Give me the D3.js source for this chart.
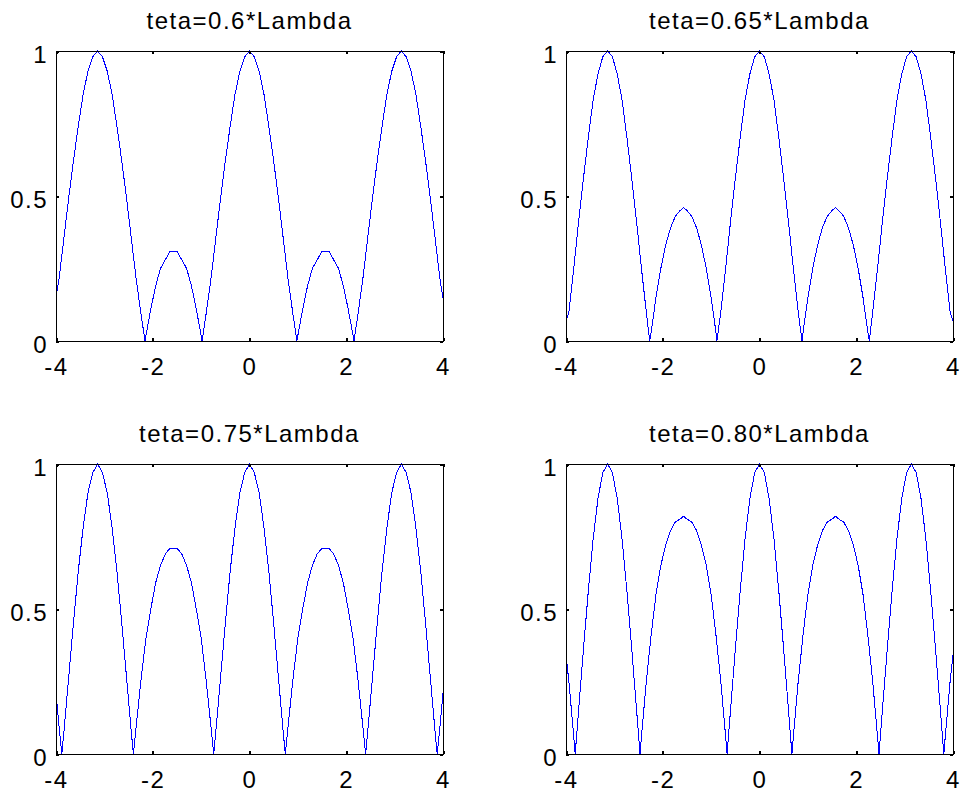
<!DOCTYPE html>
<html>
<head>
<meta charset="utf-8">
<script src="https://cdn.jsdelivr.net/npm/d3@7"></script>
<style>
  html, body { margin: 0; padding: 0; background: #fff; }
  svg { display: block; }
  text { font-family: Arial, "Liberation Sans", sans-serif; font-size: 24px; letter-spacing: 1.5px; fill: #000; }
</style>
</head>
<body>
<script>
// sample positions along x (shared by all four panels)
const xGrid = [
  -4.00, -3.94, -3.84, -3.74, -3.64, -3.54, -3.44, -3.34, -3.24, -3.14,
  -3.04, -2.94, -2.84, -2.74, -2.64, -2.54, -2.44, -2.34, -2.24, -2.14, -2.04, -1.94, -1.84, -1.74, -1.64, -1.57,
  -1.5, -1.4, -1.3, -1.2, -1.1, -1.0, -0.9, -0.8, -0.7, -0.6, -0.5, -0.4, -0.3, -0.2, -0.1, 0,
  0.1, 0.2, 0.3, 0.4, 0.5, 0.6, 0.7, 0.8, 0.9, 1.0, 1.1, 1.2, 1.3, 1.4, 1.5, 1.57,
  1.64, 1.74, 1.84, 1.94, 2.04, 2.14, 2.24, 2.34, 2.44, 2.54, 2.64, 2.74, 2.84, 2.94, 3.04, 3.14,
  3.24, 3.34, 3.44, 3.54, 3.64, 3.74, 3.84, 3.94, 4.00
];

// |pattern| values at xGrid
const yTeta060 = [
  .15, .21, .35, .49, .62, .74, .85, .93, .98, 1.00,
  .98, .93, .85, .74, .62, .49, .35, .21, .09, .02, .11, .19, .25, .28, .31, .31,
  .31, .28, .25, .19, .11, .02, .09, .21, .35, .49, .62, .74, .85, .93, .98, 1.00,
  .98, .93, .85, .74, .62, .49, .35, .21, .09, .02, .11, .19, .25, .28, .31, .31,
  .31, .28, .25, .19, .11, .02, .09, .21, .35, .49, .62, .74, .85, .93, .98, 1.00,
  .98, .93, .85, .74, .62, .49, .35, .21, .15
];
const yTeta065 = [
  .07, .10, .25, .41, .56, .70, .83, .92, .98, 1.00,
  .98, .92, .83, .70, .56, .41, .25, .10, .03, .15, .25, .33, .39, .43, .45, .46,
  .45, .43, .39, .33, .25, .15, .03, .10, .25, .41, .56, .70, .83, .92, .98, 1.00,
  .98, .92, .83, .70, .56, .41, .25, .10, .03, .15, .25, .33, .39, .43, .45, .46,
  .45, .43, .39, .33, .25, .15, .03, .10, .25, .41, .56, .70, .83, .92, .98, 1.00,
  .98, .92, .83, .70, .56, .41, .25, .10, .07
];
const yTeta075 = [
  .21, .10, .07, .26, .45, .63, .78, .90, .97, 1.00,
  .97, .90, .78, .63, .45, .26, .07, .10, .26, .40, .50, .59, .65, .69, .71, .71,
  .71, .69, .65, .59, .50, .40, .26, .10, .07, .26, .45, .63, .78, .90, .97, 1.00,
  .97, .90, .78, .63, .45, .26, .07, .10, .26, .40, .50, .59, .65, .69, .71, .71,
  .71, .69, .65, .59, .50, .40, .26, .10, .07, .26, .45, .63, .78, .90, .97, 1.00,
  .97, .90, .78, .63, .45, .26, .07, .10, .21
];
const yTeta080 = [
  .34, .25, .06, .15, .36, .56, .74, .88, .97, 1.00,
  .97, .88, .74, .56, .36, .15, .06, .25, .41, .55, .65, .72, .77, .80, .81, .82,
  .81, .80, .77, .72, .65, .55, .41, .25, .06, .15, .36, .56, .74, .88, .97, 1.00,
  .97, .88, .74, .56, .36, .15, .06, .25, .41, .55, .65, .72, .77, .80, .81, .82,
  .81, .80, .77, .72, .65, .55, .41, .25, .06, .15, .36, .56, .74, .88, .97, 1.00,
  .97, .88, .74, .56, .36, .15, .06, .25, .34
];

// x positions where each curve touches zero
const nullsTeta060 = [-2.16, -0.98, 0.98, 2.16];
const nullsTeta065 = [-2.27, -0.88, 0.88, 2.27];
const nullsTeta075 = [-3.88, -2.40, -0.74, 0.74, 2.40, 3.88];
const nullsTeta080 = [-3.81, -2.47, -0.67, 0.67, 2.47, 3.81];

const titles = ["teta=0.6*Lambda", "teta=0.65*Lambda", "teta=0.75*Lambda", "teta=0.80*Lambda"];
const xTicks = [-4, -2, 0, 2, 4];
const yTicks = [0, 0.5, 1];

const width = 964, height = 793;
const plotW = 387, plotH = 290;
const tickLen = 3;

const svg = d3.select("body").append("svg")
  .attr("width", width)
  .attr("height", height);

svg.append("rect").attr("width", width).attr("height", height).attr("fill", "#fff");

const panels = [
  { title: titles[0], ys: yTeta060, nulls: nullsTeta060, left: 56, top: 51 },
  { title: titles[1], ys: yTeta065, nulls: nullsTeta065, left: 566, top: 51 },
  { title: titles[2], ys: yTeta075, nulls: nullsTeta075, left: 56, top: 464 },
  { title: titles[3], ys: yTeta080, nulls: nullsTeta080, left: 566, top: 464 }
];

function drawPanel(p) {
  const x = d3.scaleLinear().domain([-4, 4]).range([p.left, p.left + plotW]);
  const y = d3.scaleLinear().domain([0, 1]).range([p.top + plotH, p.top]);

  const g = svg.append("g").attr("class", "panel");

  // merge read samples with the zero crossings
  const points = xGrid.map((xv, i) => ({ x: xv, y: p.ys[i] }))
    .concat(p.nulls.map((xv) => ({ x: xv, y: 0 })))
    .sort((a, b) => a.x - b.x);

  const line = d3.line().x((d) => x(d.x)).y((d) => y(d.y));

  g.append("path")
    .datum(points)
    .attr("d", line)
    .attr("fill", "none")
    .attr("stroke", "#0000ff")
    .attr("stroke-width", 1)
    .attr("shape-rendering", "crispEdges");

  // axes: ticks pointing inward, mirrored on top/right
  const bottom = g.append("g")
    .attr("transform", `translate(0,${p.top + plotH})`)
    .call(d3.axisBottom(x).tickValues(xTicks).tickSizeInner(-tickLen).tickSizeOuter(0)
      .tickPadding(17).tickFormat((d) => String(d)));
  bottom.selectAll("text").attr("dy", "0.71em");

  g.append("g")
    .attr("transform", `translate(0,${p.top})`)
    .call(d3.axisTop(x).tickValues(xTicks).tickSizeInner(-tickLen).tickSizeOuter(0).tickFormat(""));

  const left = g.append("g")
    .attr("transform", `translate(${p.left},0)`)
    .call(d3.axisLeft(y).tickValues(yTicks).tickSizeInner(-tickLen).tickSizeOuter(0)
      .tickPadding(8).tickFormat((d) => String(d)));
  left.selectAll("text").attr("dy", "11px");

  g.append("g")
    .attr("transform", `translate(${p.left + plotW},0)`)
    .call(d3.axisRight(y).tickValues(yTicks).tickSizeInner(-tickLen).tickSizeOuter(0).tickFormat(""));

  g.selectAll(".domain")
    .attr("stroke", "#000")
    .attr("shape-rendering", "crispEdges");
  g.selectAll(".tick line")
    .attr("stroke", "#000")
    .attr("stroke-width", 2)
    .attr("shape-rendering", "crispEdges");
  g.selectAll(".tick text")
    .attr("fill", "#000")
    .style("font-family", "Arial, 'Liberation Sans', sans-serif")
    .style("font-size", "24px");

  g.append("text")
    .attr("x", p.left + plotW / 2)
    .attr("y", p.top - 22)
    .attr("text-anchor", "middle")
    .text(p.title);
}

panels.forEach(drawPanel);
</script>
</body>
</html>
